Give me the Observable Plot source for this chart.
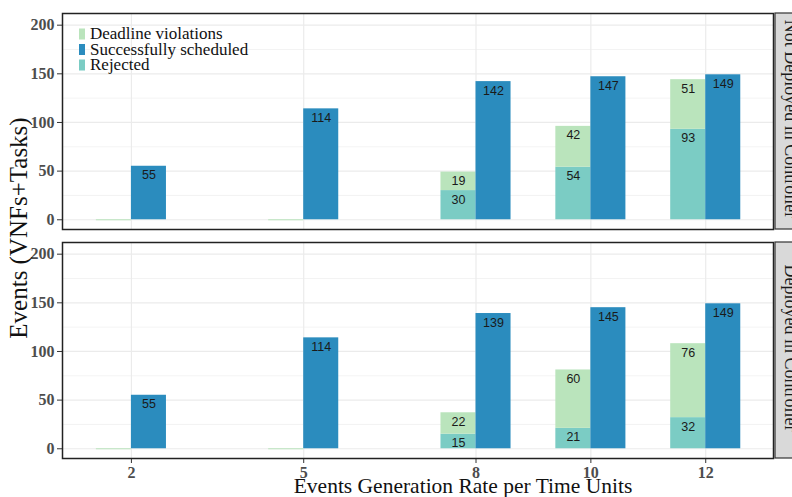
<!DOCTYPE html>
<html><head><meta charset="utf-8">
<script src="https://cdn.jsdelivr.net/npm/d3@7"></script>
<script src="https://cdn.jsdelivr.net/npm/@observablehq/plot@0.6"></script>
<style>body{margin:0;background:#fff;} #chart svg{display:block;}</style>
</head><body><div id="chart"></div>
<script>
const panels = ["Not Deployed in Controller", "Deployed in Controller"];
const rates = [2, 5, 8, 10, 12];
const seriesNames = ["Deadline violations", "Successfully scheduled", "Rejected"];
const seriesColors = ["#bae4bc", "#2b8cbe", "#7bccc4"];
const rejectedNot = [0, 0, 30, 54, 93];
const deadlineNot = [0, 0, 19, 42, 51];
const successNot = [55, 114, 142, 147, 149];
const rejectedDep = [0, 0, 15, 21, 32];
const deadlineDep = [0, 0, 22, 60, 76];
const successDep = [55, 114, 139, 145, 149];
const yTicks = [0, 50, 100, 150, 200];
const yMinor = [25, 75, 125, 175];
const xTitle = "Events Generation Rate per Time Units";
const yTitle = "Events (VNFs+Tasks)";

const barW = 0.61;
const stackRows = [], successRows = [];
[[panels[0], rejectedNot, deadlineNot, successNot], [panels[1], rejectedDep, deadlineDep, successDep]].forEach(([panel, rej, dl, suc]) => {
  rates.forEach((r, i) => {
    stackRows.push({panel, rate: r, series: "Rejected", value: rej[i]});
    stackRows.push({panel, rate: r, series: "Deadline violations", value: dl[i]});
    successRows.push({panel, rate: r, series: "Successfully scheduled", value: suc[i]});
  });
});
const zeroRows = stackRows.filter(d => d.value === 0 && d.series === "Deadline violations");

const serif = "Liberation Serif, Times New Roman, serif";
const sans = "Liberation Sans, Arial, sans-serif";
const W = 792, H = 497;

const chart = Plot.plot({
  width: W, height: H,
  marginTop: 13, marginBottom: 38, marginLeft: 62, marginRight: 19,
  x: {type: "linear", domain: [0.8, 13.18], label: null},
  y: {domain: [-10, 212], label: null},
  fy: {domain: panels, axis: null, paddingInner: 0.0566, paddingOuter: 0, label: null},
  color: {domain: seriesNames, range: seriesColors},
  marks: [
    Plot.gridY(yMinor, {stroke: "#ebebeb", strokeOpacity: 1, strokeWidth: 0.6}),
    Plot.gridY(yTicks, {stroke: "#ebebeb", strokeOpacity: 1, strokeWidth: 1.2}),
    Plot.gridX(rates, {stroke: "#ebebeb", strokeOpacity: 1, strokeWidth: 1.2}),
    Plot.rectY(stackRows, {x1: d => d.rate - barW, x2: d => d.rate, y: "value", fy: "panel", fill: "series"}),
    Plot.rectY(successRows, {x1: d => d.rate, x2: d => d.rate + barW, y: "value", fy: "panel", fill: "series"}),
    Plot.ruleY(zeroRows, {x1: d => d.rate - barW, x2: d => d.rate, y: "value", fy: "panel", stroke: "series", strokeWidth: 1}),
    Plot.text(stackRows, Plot.stackY2({x: d => d.rate - barW / 2, y: "value", fy: "panel",
      text: d => d.value > 0 ? String(d.value) : "", dy: 9, fontFamily: sans, fontSize: 12.5, fill: "#1a1a1a"})),
    Plot.text(successRows, {x: d => d.rate + barW / 2, y: "value", fy: "panel",
      text: d => String(d.value), dy: 9, fontFamily: sans, fontSize: 12.5, fill: "#1a1a1a"}),
    Plot.axisY(yTicks, {tickSize: 5, tickPadding: 3, fontFamily: serif, fontWeight: "bold", fontSize: 16, fill: "#4d4d4d", stroke: "#333", label: null}),
    Plot.axisX(rates, {tickSize: 5, tickPadding: 3, fontFamily: serif, fontWeight: "bold", fontSize: 16, fill: "#4d4d4d", stroke: "#333", label: null}),
    Plot.frame({stroke: "#222", strokeWidth: 1.5})
  ]
});
document.getElementById("chart").append(chart);

const svg = d3.select(chart);
const fy = chart.scale("fy");
const bw = fy.bandwidth;
// strips on the right
const stripG = svg.append("g");
panels.forEach(p => {
  const y0 = fy.apply(p);
  stripG.append("rect").attr("x", 775).attr("y", y0).attr("width", 40).attr("height", bw)
    .attr("fill", "#d9d9d9").attr("stroke", "#333").attr("stroke-width", 1.2);
  stripG.append("text").attr("transform", `translate(785,${y0 + bw / 2 - 2}) rotate(90)`)
    .attr("text-anchor", "middle").attr("font-family", serif).attr("font-size", 18)
    .attr("fill", "#1a1a1a").text(p);
});
// legend inside top panel
const top0 = fy.apply(panels[0]);
const lg = svg.append("g").attr("text-anchor", "start");
seriesNames.forEach((name, i) => {
  const cy = top0 + 21 + i * 15.5;
  lg.append("rect").attr("x", 79).attr("y", cy - 5.5).attr("width", 6).attr("height", 11).attr("fill", seriesColors[i]);
  lg.append("text").attr("x", 90).attr("y", cy + 5).attr("text-anchor", "start").attr("font-family", serif).attr("font-size", 17)
    .attr("fill", "#111").text(name);
});
// axis titles
svg.append("text").attr("x", 463).attr("y", 493).attr("text-anchor", "middle")
  .attr("font-family", serif).attr("font-size", 21.5).attr("fill", "#111").text(xTitle);
svg.append("text").attr("transform", `translate(27,228) rotate(-90)`).attr("text-anchor", "middle")
  .attr("font-family", serif).attr("font-size", 25).attr("fill", "#111").text(yTitle);
</script>
</body></html>
